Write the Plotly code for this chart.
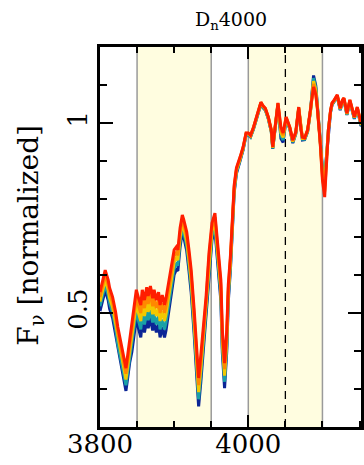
import plotly.graph_objects as go

wave = [3800, 3804, 3807, 3811, 3813, 3817, 3821, 3824, 3828, 3831, 3835, 3837, 3840, 3843, 3847,
        3849, 3852, 3855, 3857, 3860, 3863, 3865, 3868, 3871, 3873, 3876, 3879, 3881, 3884, 3887,
        3889, 3893, 3896, 3900, 3903, 3905, 3908, 3911, 3913, 3917, 3920, 3923, 3927, 3931, 3933,
        3936, 3939, 3943, 3947, 3951, 3955, 3957, 3960, 3963, 3965, 3968, 3971, 3973, 3976, 3979,
        3981, 3984, 3987, 3989, 3993, 3997, 4000, 4003, 4007, 4011, 4013, 4017, 4020, 4023, 4027,
        4031, 4033, 4036, 4040, 4044, 4047, 4051, 4053, 4056, 4060, 4064, 4068, 4071, 4073, 4076,
        4080, 4084, 4088, 4091, 4093, 4097, 4100, 4103, 4105, 4108, 4111, 4113, 4116, 4120, 4124,
        4127, 4129, 4133, 4137, 4140, 4143, 4147, 4149, 4152, 4158]

flux_red = [0.555, 0.589, 0.613, 0.587, 0.566, 0.542, 0.503, 0.463, 0.424, 0.395, 0.355, 0.384, 0.429, 0.463, 0.534,
            0.561, 0.539, 0.521, 0.561, 0.534, 0.568, 0.545, 0.571, 0.539, 0.561, 0.534, 0.555, 0.521, 0.547, 0.521,
            0.539, 0.587, 0.613, 0.666, 0.674, 0.666, 0.724, 0.758, 0.745, 0.713, 0.666, 0.613, 0.508, 0.376, 0.329,
            0.389, 0.455, 0.542, 0.658, 0.737, 0.763, 0.718, 0.653, 0.587, 0.455, 0.368, 0.455, 0.574, 0.653, 0.758,
            0.837, 0.882, 0.897, 0.911, 0.937, 0.974, 0.974, 0.968, 0.989, 1.016, 1.034, 1.055, 1.045, 1.039, 1.016,
            0.982, 0.937, 0.995, 1.053, 0.989, 0.974, 1.016, 1.003, 0.989, 0.955, 0.976, 1.042, 0.982, 0.963, 0.961,
            0.982, 1.034, 1.095, 1.074, 1.042, 0.947, 0.850, 0.805, 0.889, 0.982, 1.034, 1.053, 1.061, 1.074, 1.039,
            1.061, 1.066, 1.026, 1.061, 1.034, 1.016, 1.042, 1.021, 1.000, 1.013]

flux_orange = [0.542, 0.577, 0.600, 0.574, 0.552, 0.528, 0.489, 0.448, 0.409, 0.380, 0.340, 0.369, 0.414, 0.447, 0.517,
               0.542, 0.519, 0.500, 0.540, 0.513, 0.547, 0.524, 0.550, 0.518, 0.540, 0.513, 0.534, 0.500, 0.526, 0.500,
               0.518, 0.568, 0.596, 0.650, 0.659, 0.652, 0.712, 0.747, 0.734, 0.701, 0.652, 0.598, 0.492, 0.359, 0.310,
               0.372, 0.440, 0.528, 0.646, 0.726, 0.752, 0.707, 0.641, 0.573, 0.440, 0.352, 0.441, 0.563, 0.644, 0.752,
               0.832, 0.878, 0.894, 0.909, 0.935, 0.973, 0.973, 0.967, 0.988, 1.015, 1.033, 1.054, 1.044, 1.038, 1.015,
               0.981, 0.936, 0.994, 1.052, 0.982, 0.968, 1.015, 1.002, 0.988, 0.953, 0.975, 1.041, 0.981, 0.961, 0.960,
               0.981, 1.034, 1.103, 1.080, 1.045, 0.950, 0.858, 0.819, 0.893, 0.982, 1.033, 1.052, 1.060, 1.073, 1.038,
               1.060, 1.065, 1.025, 1.060, 1.033, 1.015, 1.041, 1.020, 0.998, 1.012]

flux_yellow = [0.530, 0.564, 0.587, 0.561, 0.539, 0.515, 0.474, 0.433, 0.394, 0.365, 0.325, 0.354, 0.399, 0.431, 0.499,
               0.524, 0.499, 0.479, 0.519, 0.492, 0.526, 0.503, 0.529, 0.497, 0.519, 0.492, 0.513, 0.479, 0.505, 0.479,
               0.497, 0.550, 0.578, 0.634, 0.644, 0.639, 0.699, 0.736, 0.723, 0.688, 0.639, 0.583, 0.476, 0.341, 0.292,
               0.354, 0.425, 0.515, 0.633, 0.715, 0.741, 0.696, 0.628, 0.560, 0.425, 0.335, 0.428, 0.552, 0.636, 0.746,
               0.827, 0.875, 0.891, 0.906, 0.933, 0.971, 0.972, 0.966, 0.987, 1.014, 1.032, 1.053, 1.043, 1.037, 1.014,
               0.980, 0.935, 0.993, 1.051, 0.974, 0.962, 1.014, 1.001, 0.987, 0.951, 0.974, 1.040, 0.980, 0.959, 0.959,
               0.980, 1.034, 1.110, 1.087, 1.047, 0.952, 0.865, 0.833, 0.897, 0.982, 1.032, 1.051, 1.059, 1.072, 1.037,
               1.059, 1.064, 1.024, 1.059, 1.032, 1.014, 1.040, 1.019, 0.996, 1.011]

flux_teal = [0.518, 0.552, 0.573, 0.547, 0.525, 0.501, 0.460, 0.418, 0.379, 0.350, 0.310, 0.339, 0.384, 0.414, 0.482,
             0.505, 0.479, 0.457, 0.497, 0.470, 0.504, 0.481, 0.507, 0.475, 0.497, 0.470, 0.491, 0.457, 0.483, 0.457,
             0.475, 0.531, 0.561, 0.617, 0.629, 0.625, 0.687, 0.724, 0.711, 0.676, 0.625, 0.568, 0.459, 0.324, 0.273,
             0.337, 0.410, 0.501, 0.621, 0.703, 0.729, 0.684, 0.616, 0.546, 0.410, 0.319, 0.414, 0.540, 0.627, 0.739,
             0.822, 0.871, 0.888, 0.904, 0.931, 0.970, 0.970, 0.964, 0.985, 1.012, 1.030, 1.051, 1.041, 1.035, 1.012,
             0.978, 0.933, 0.991, 1.049, 0.967, 0.955, 1.012, 0.999, 0.985, 0.949, 0.972, 1.038, 0.978, 0.957, 0.957,
             0.978, 1.034, 1.118, 1.093, 1.050, 0.955, 0.873, 0.846, 0.900, 0.982, 1.030, 1.049, 1.057, 1.070, 1.035,
             1.057, 1.062, 1.022, 1.057, 1.030, 1.012, 1.038, 1.017, 0.994, 1.009]

flux_blue = [0.505, 0.539, 0.560, 0.534, 0.511, 0.487, 0.445, 0.403, 0.364, 0.335, 0.295, 0.324, 0.369, 0.398, 0.464,
             0.486, 0.459, 0.436, 0.476, 0.449, 0.483, 0.460, 0.486, 0.454, 0.476, 0.449, 0.470, 0.436, 0.462, 0.436,
             0.454, 0.512, 0.543, 0.601, 0.614, 0.611, 0.674, 0.713, 0.700, 0.663, 0.611, 0.553, 0.443, 0.306, 0.254,
             0.319, 0.395, 0.487, 0.608, 0.692, 0.718, 0.673, 0.603, 0.532, 0.395, 0.302, 0.400, 0.529, 0.618, 0.733,
             0.817, 0.867, 0.885, 0.901, 0.929, 0.968, 0.969, 0.963, 0.984, 1.011, 1.029, 1.050, 1.040, 1.034, 1.011,
             0.977, 0.932, 0.990, 1.048, 0.959, 0.949, 1.011, 0.998, 0.984, 0.947, 0.971, 1.037, 0.977, 0.955, 0.956,
             0.977, 1.034, 1.125, 1.099, 1.052, 0.957, 0.880, 0.860, 0.904, 0.982, 1.029, 1.048, 1.056, 1.069, 1.034,
             1.056, 1.061, 1.021, 1.056, 1.029, 1.011, 1.037, 1.016, 0.992, 1.008]

series = [
    (flux_blue, "#0b2596"),
    (flux_teal, "#19a0a6"),
    (flux_yellow, "#f2c800"),
    (flux_orange, "#ff8800"),
    (flux_red, "#ff1e00"),
]

bands = [(3850, 3950), (4000, 4100)]
band_edges = [3850, 3950, 4000, 4100]
dashed_at = 4050

fig = go.Figure()
for ys, col in series:
    fig.add_trace(go.Scatter(x=wave, y=ys, mode="lines",
                             line=dict(color=col, width=3), showlegend=False,
                             hoverinfo="skip"))

shapes = []
for a, b in bands:
    shapes.append(dict(type="rect", xref="x", yref="paper", x0=a, x1=b, y0=0, y1=1,
                       fillcolor="#fffde0", line=dict(width=0), layer="below"))
for e in band_edges:
    shapes.append(dict(type="line", xref="x", yref="paper", x0=e, x1=e, y0=0, y1=1,
                       line=dict(color="#9a9a9a", width=1.5), layer="below"))
shapes.append(dict(type="line", xref="x", yref="paper", x0=dashed_at, x1=dashed_at, y0=0, y1=1,
                   line=dict(color="black", width=1.3, dash="8px,6px"), layer="below"))

serif = "DejaVu Serif"
W, H = 364, 465
fig.update_layout(
    width=W, height=H,
    margin=dict(l=100, r=0, t=47, b=38),
    plot_bgcolor="white", paper_bgcolor="white",
    shapes=shapes,
    title=dict(text="D<sub>n</sub>4000", x=231 / W, xanchor="center", xref="container",
               y=1 - 19 / H, yanchor="middle", yref="container",
               font=dict(family=serif, size=19, color="black")),
    annotations=[dict(text="F<sub>ν</sub> [normalized]", textangle=-90,
                      xref="paper", yref="paper", x=(29 - 100) / 264, y=(427 - 235) / 380,
                      xanchor="center", yanchor="middle", showarrow=False,
                      font=dict(family=serif, size=28, color="black"))],
)
fig.update_xaxes(
    range=[3800, 4152], tick0=3800, dtick=200, ticks="inside", ticklen=12, tickwidth=1.5,
    tickcolor="black", showline=True, linecolor="black", linewidth=3, mirror="allticks",
    showgrid=False, zeroline=False, ticklabelstandoff=-8,
    tickfont=dict(family=serif, size=26, color="black"),
    minor=dict(dtick=50, tick0=3800, ticks="inside", ticklen=6, tickwidth=1.5, tickcolor="black", showgrid=False),
)
fig.update_yaxes(
    range=[0.2, 1.2], tickvals=[0.5, 1.0], ticktext=["0.5", "1"], ticks="inside", ticklen=13, tickwidth=1.5,
    tickcolor="black", showline=True, linecolor="black", linewidth=3, mirror="allticks",
    showgrid=False, zeroline=False, tickangle=-90,
    tickfont=dict(family=serif, size=26, color="black"),
    minor=dict(dtick=0.1, tick0=0.2, ticks="inside", ticklen=7, tickwidth=1.5, tickcolor="black", showgrid=False),
)

fig.write_html("out.html")
